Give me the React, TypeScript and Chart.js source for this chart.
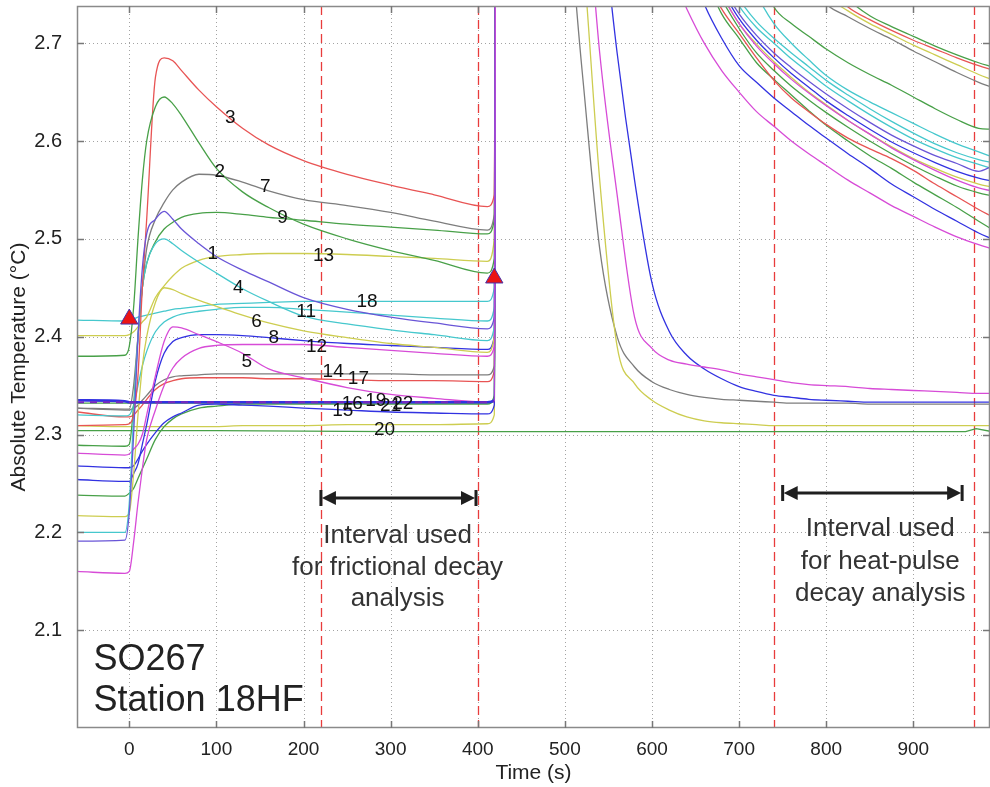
import React, { useEffect, useRef } from 'react';
import { Chart, registerables } from 'chart.js';

Chart.register(...registerables);

// ---- axes ----
const X_MIN = -60;
const X_MAX = 988;
const Y_MIN = 2.0;
const Y_MAX = 2.738;
const X_TICKS = [0, 100, 200, 300, 400, 500, 600, 700, 800, 900];
const Y_TICKS = [2.1, 2.2, 2.3, 2.4, 2.5, 2.6, 2.7];
const MARK_T = [220, 400, 740, 970];

// ---- sample times ----
const PRE_T = [-60, -5, 0, 5, 10, 15, 20, 30, 40, 50, 60, 80, 100, 130, 160, 200, 250, 300, 350, 411, 419];
const POST_T = [422, 520, 540, 560, 580, 600, 620, 640, 660, 680, 700, 720, 740, 760, 780, 800, 825, 850, 875, 900, 925, 950, 975, 990];

// ---- sensor series (°C) ----
const S1_PRE = [2.191, 2.192, 2.22, 2.30, 2.40, 2.47, 2.505, 2.52, 2.528, 2.52, 2.51, 2.495, 2.482, 2.468, 2.456, 2.44, 2.428, 2.42, 2.414, 2.408, 2.42];
const S1_POST = [3.6, 3.2, 3.1, 3.0, 2.95, 2.9, 2.86, 2.83, 2.80, 2.76, 2.73, 2.708, 2.69, 2.675, 2.661, 2.648, 2.633, 2.619, 2.606, 2.595, 2.585, 2.577, 2.569, 2.574];
const S2_PRE = [2.38, 2.381, 2.39, 2.43, 2.50, 2.56, 2.60, 2.635, 2.645, 2.638, 2.626, 2.598, 2.572, 2.548, 2.532, 2.515, 2.5, 2.488, 2.478, 2.465, 2.48];
const S2_POST = [3.6, 3.4, 3.35, 3.3, 3.2, 3.1, 3.05, 3.0, 2.96, 2.92, 2.89, 2.86, 2.83, 2.81, 2.79, 2.77, 2.745, 2.728, 2.717, 2.707, 2.697, 2.688, 2.68, 2.676];
const S3_PRE = [2.309, 2.31, 2.311, 2.32, 2.36, 2.45, 2.52, 2.665, 2.685, 2.682, 2.672, 2.652, 2.635, 2.613, 2.596, 2.58, 2.566, 2.555, 2.545, 2.533, 2.545];
const S3_POST = [3.6, 3.4, 3.35, 3.3, 3.2, 3.1, 3.05, 3.0, 2.96, 2.92, 2.89, 2.86, 2.83, 2.805, 2.785, 2.76, 2.737, 2.724, 2.713, 2.703, 2.694, 2.685, 2.677, 2.673];
const S4_PRE = [2.20, 2.20, 2.23, 2.32, 2.40, 2.45, 2.475, 2.495, 2.50, 2.495, 2.488, 2.476, 2.465, 2.449, 2.436, 2.421, 2.413, 2.407, 2.402, 2.396, 2.41];
const S4_POST = [3.6, 3.25, 3.15, 3.05, 2.98, 2.93, 2.89, 2.85, 2.81, 2.77, 2.738, 2.716, 2.70, 2.684, 2.67, 2.656, 2.641, 2.627, 2.614, 2.602, 2.592, 2.583, 2.576, 2.572];
const S5_PRE = [2.281, 2.279, 2.28, 2.285, 2.29, 2.30, 2.32, 2.36, 2.395, 2.41, 2.409, 2.402, 2.395, 2.383, 2.367, 2.358, 2.348, 2.341, 2.337, 2.333, 2.335];
const S5_POST = [3.6, 3.1, 3.0, 2.93, 2.87, 2.82, 2.775, 2.735, 2.70, 2.672, 2.65, 2.63, 2.615, 2.60, 2.587, 2.575, 2.56, 2.547, 2.534, 2.523, 2.512, 2.502, 2.494, 2.49];
const S6_PRE = [2.217, 2.216, 2.22, 2.26, 2.32, 2.37, 2.40, 2.435, 2.45, 2.448, 2.444, 2.437, 2.431, 2.422, 2.414, 2.406, 2.399, 2.393, 2.389, 2.384, 2.40];
const S6_POST = [3.6, 2.80, 2.56, 2.39, 2.352, 2.335, 2.325, 2.318, 2.314, 2.312, 2.311, 2.31, 2.309, 2.309, 2.309, 2.309, 2.309, 2.309, 2.309, 2.309, 2.309, 2.309, 2.309, 2.309];
const S7_PRE = [2.327, 2.326, 2.326, 2.35, 2.40, 2.45, 2.49, 2.52, 2.537, 2.55, 2.558, 2.566, 2.565, 2.558, 2.549, 2.54, 2.534, 2.527, 2.518, 2.509, 2.525];
const S7_POST = [3.6, 3.4, 3.3, 3.2, 3.1, 3.0, 2.97, 2.94, 2.91, 2.88, 2.86, 2.83, 2.81, 2.79, 2.765, 2.74, 2.727, 2.715, 2.704, 2.692, 2.681, 2.67, 2.66, 2.655];
const S8_PRE = [2.254, 2.252, 2.252, 2.26, 2.27, 2.29, 2.31, 2.355, 2.383, 2.395, 2.399, 2.402, 2.402, 2.401, 2.399, 2.396, 2.393, 2.391, 2.389, 2.387, 2.40];
const S8_POST = [3.6, 3.2, 3.1, 3.0, 2.95, 2.9, 2.86, 2.82, 2.79, 2.755, 2.725, 2.703, 2.685, 2.669, 2.655, 2.641, 2.626, 2.612, 2.599, 2.588, 2.578, 2.569, 2.562, 2.559];
const S9_PRE = [2.289, 2.288, 2.29, 2.33, 2.40, 2.45, 2.475, 2.497, 2.51, 2.517, 2.522, 2.526, 2.527, 2.525, 2.522, 2.519, 2.515, 2.512, 2.509, 2.505, 2.52];
const S9_POST = [3.6, 3.3, 3.2, 3.1, 3.0, 2.95, 2.92, 2.89, 2.86, 2.83, 2.81, 2.78, 2.737, 2.72, 2.707, 2.694, 2.68, 2.668, 2.657, 2.645, 2.633, 2.622, 2.613, 2.612];
const S11_PRE = [2.32, 2.319, 2.32, 2.33, 2.35, 2.37, 2.385, 2.405, 2.415, 2.42, 2.423, 2.426, 2.428, 2.43, 2.43, 2.428, 2.425, 2.422, 2.419, 2.416, 2.43];
const S11_POST = [3.6, 3.25, 3.15, 3.05, 2.98, 2.93, 2.89, 2.85, 2.81, 2.775, 2.745, 2.722, 2.705, 2.69, 2.676, 2.662, 2.647, 2.633, 2.62, 2.608, 2.597, 2.588, 2.581, 2.578];
const S12_PRE = [2.16, 2.158, 2.16, 2.19, 2.23, 2.265, 2.295, 2.325, 2.35, 2.368, 2.378, 2.388, 2.391, 2.392, 2.392, 2.392, 2.389, 2.386, 2.383, 2.38, 2.39];
const S12_POST = [3.6, 3.2, 3.1, 3.0, 2.95, 2.9, 2.86, 2.82, 2.785, 2.75, 2.72, 2.697, 2.679, 2.663, 2.649, 2.636, 2.621, 2.607, 2.593, 2.581, 2.57, 2.56, 2.552, 2.549];
const S13_PRE = [2.401, 2.401, 2.402, 2.405, 2.41, 2.415, 2.42, 2.44, 2.452, 2.462, 2.47, 2.478, 2.482, 2.484, 2.485, 2.485, 2.484, 2.482, 2.48, 2.477, 2.50];
const S13_POST = [3.6, 3.4, 3.3, 3.2, 3.1, 3.0, 2.97, 2.94, 2.91, 2.88, 2.86, 2.84, 2.82, 2.80, 2.78, 2.75, 2.733, 2.72, 2.709, 2.698, 2.688, 2.678, 2.668, 2.663];
const S14_PRE = [2.327, 2.325, 2.325, 2.327, 2.33, 2.335, 2.34, 2.35, 2.356, 2.359, 2.36, 2.361, 2.362, 2.362, 2.362, 2.362, 2.362, 2.362, 2.361, 2.361, 2.37];
const S14_POST = [3.6, 2.67, 2.49, 2.40, 2.369, 2.354, 2.346, 2.341, 2.338, 2.336, 2.335, 2.334, 2.333, 2.332, 2.332, 2.332, 2.332, 2.331, 2.331, 2.331, 2.331, 2.331, 2.331, 2.331];
const S15_PRE = [2.268, 2.266, 2.266, 2.268, 2.275, 2.283, 2.29, 2.302, 2.312, 2.318, 2.322, 2.33, 2.331, 2.33, 2.329, 2.327, 2.325, 2.323, 2.322, 2.321, 2.33];
const S15_POST = [3.6, 3.2, 3.1, 3.0, 2.95, 2.9, 2.85, 2.79, 2.74, 2.705, 2.677, 2.66, 2.644, 2.63, 2.616, 2.603, 2.587, 2.572, 2.556, 2.543, 2.53, 2.518, 2.506, 2.50];
const S16_PRE = [2.238, 2.237, 2.24, 2.245, 2.255, 2.265, 2.275, 2.295, 2.308, 2.316, 2.321, 2.327, 2.329, 2.331, 2.331, 2.331, 2.331, 2.331, 2.331, 2.331, 2.34];
const S16_POST = [3.6, 3.2, 3.1, 3.0, 2.95, 2.9, 2.86, 2.82, 2.78, 2.745, 2.715, 2.69, 2.672, 2.656, 2.642, 2.629, 2.614, 2.6, 2.587, 2.575, 2.564, 2.554, 2.547, 2.544];
const S17_PRE = [2.323, 2.318, 2.318, 2.32, 2.325, 2.33, 2.336, 2.346, 2.352, 2.355, 2.357, 2.358, 2.358, 2.358, 2.357, 2.357, 2.356, 2.355, 2.355, 2.354, 2.365];
const S17_POST = [3.6, 3.2, 3.1, 3.0, 2.95, 2.9, 2.86, 2.82, 2.77, 2.735, 2.71, 2.685, 2.662, 2.644, 2.63, 2.617, 2.603, 2.592, 2.582, 2.57, 2.556, 2.543, 2.53, 2.523];
const S18_PRE = [2.417, 2.416, 2.416, 2.418, 2.42, 2.421, 2.422, 2.424, 2.426, 2.428, 2.429, 2.431, 2.433, 2.434, 2.435, 2.436, 2.436, 2.436, 2.436, 2.436, 2.45];
const S18_POST = [3.6, 3.3, 3.2, 3.1, 3.0, 2.95, 2.9, 2.86, 2.83, 2.81, 2.79, 2.75, 2.72, 2.70, 2.683, 2.667, 2.652, 2.64, 2.629, 2.618, 2.607, 2.597, 2.589, 2.584];
const S19_PRE = [2.335, 2.334, 2.333, 2.333, 2.333, 2.333, 2.333, 2.333, 2.333, 2.333, 2.333, 2.333, 2.333, 2.333, 2.333, 2.333, 2.333, 2.333, 2.333, 2.333, 2.335];
const S19_POST = [3.6, 3.0, 2.85, 2.69, 2.56, 2.455, 2.405, 2.381, 2.367, 2.357, 2.349, 2.344, 2.34, 2.338, 2.336, 2.335, 2.334, 2.333, 2.333, 2.333, 2.333, 2.333, 2.333, 2.333];
const S20_PRE = [2.309, 2.308, 2.308, 2.308, 2.308, 2.308, 2.308, 2.308, 2.308, 2.308, 2.308, 2.308, 2.308, 2.309, 2.309, 2.309, 2.31, 2.31, 2.31, 2.311, 2.32];
const S20_POST = [3.6, 3.2, 3.1, 3.0, 2.95, 2.9, 2.86, 2.82, 2.785, 2.75, 2.72, 2.699, 2.681, 2.665, 2.65, 2.637, 2.621, 2.607, 2.594, 2.582, 2.572, 2.563, 2.556, 2.553];
const S21_PRE = [2.333, 2.333, 2.333, 2.333, 2.333, 2.333, 2.333, 2.333, 2.333, 2.333, 2.333, 2.333, 2.333, 2.333, 2.333, 2.333, 2.333, 2.333, 2.333, 2.333, 2.334];
const S21_POST = [3.6, 2.90, 2.69, 2.545, 2.42, 2.388, 2.376, 2.372, 2.369, 2.366, 2.362, 2.359, 2.356, 2.353, 2.351, 2.35, 2.349, 2.347, 2.346, 2.345, 2.344, 2.343, 2.342, 2.342];
const S22_PRE = [2.332, 2.332, 2.332, 2.332, 2.332, 2.332, 2.332, 2.332, 2.332, 2.332, 2.332, 2.332, 2.332, 2.332, 2.332, 2.332, 2.332, 2.332, 2.332, 2.332, 2.335];
const S22_POST = [3.6, 3.2, 3.1, 3.0, 2.95, 2.9, 2.86, 2.82, 2.77, 2.73, 2.705, 2.68, 2.663, 2.647, 2.631, 2.616, 2.60, 2.585, 2.572, 2.558, 2.545, 2.532, 2.518, 2.51];

// reference sensor (no heat pulse)
const FLAT_T = [-60, 100, 300, 500, 700, 900, 960, 972, 990];
const FLAT_V = [2.304, 2.304, 2.303, 2.303, 2.303, 2.303, 2.303, 2.306, 2.303];

// penetration / heat-pulse markers
const TRI_T = [0, 419];
const TRI_V = [2.418, 2.46];

// sensor number labels
const LABEL_TEXT = ['3', '2', '7', '9', '1', '13', '4', '18', '11', '6', '8', '12', '5', '14', '17', '16', '15', '19', '21', '22', '20'];
const LABEL_T = [116, 104, 156, 176, 96, 223, 125, 273, 203, 146, 166, 215, 135, 234, 263, 256, 245, 283, 300, 314, 293];
const LABEL_V = [2.624, 2.569, 2.553, 2.522, 2.485, 2.483, 2.45, 2.436, 2.425, 2.415, 2.399, 2.39, 2.374, 2.364, 2.357, 2.331, 2.324, 2.334, 2.329, 2.331, 2.305];

// annotations
const ARROW_1 = [220, 398, 2.2346];
const ARROW_2 = [750, 956, 2.2407];
const NOTE_1 = ['Interval used', 'for frictional decay', 'analysis'];
const NOTE_1_POS = [308, 2.1968, 2.1642, 2.1316];
const NOTE_2 = ['Interval used', 'for heat-pulse', 'decay analysis'];
const NOTE_2_POS = [862, 2.204, 2.170, 2.137];
const STATION = ['SO267', 'Station 18HF'];
const STATION_POS = [-41, 2.0694, 2.0276];

const RED = 'rgb(232,84,84)';
const GREEN = 'rgb(72,160,72)';
const GRAY = 'rgb(125,125,125)';
const BLUE = 'rgb(50,50,225)';
const PURPLE = 'rgb(105,85,215)';
const DARKPURPLE = 'rgb(120,40,190)';
const CYAN = 'rgb(70,200,205)';
const YELLOW = 'rgb(205,205,80)';
const MAGENTA = 'rgb(215,75,215)';

const PULSE_T = 419;

// drawn top-most first
const SERIES = [
  { pre: S21_PRE, post: S21_POST, color: MAGENTA, preColor: DARKPURPLE, preDash: [7, 6], w: 1.3, preW: 2 },
  { pre: S19_PRE, post: S19_POST, color: BLUE, preColor: BLUE, preDash: [], w: 1.3, preW: 2.6 },
  { pre: S1_PRE, post: S1_POST, color: PURPLE },
  { pre: S2_PRE, post: S2_POST, color: GREEN },
  { pre: S3_PRE, post: S3_POST, color: RED },
  { pre: S4_PRE, post: S4_POST, color: CYAN },
  { pre: S5_PRE, post: S5_POST, color: MAGENTA },
  { pre: S6_PRE, post: S6_POST, color: YELLOW },
  { pre: S7_PRE, post: S7_POST, color: GRAY },
  { pre: S8_PRE, post: S8_POST, color: BLUE },
  { pre: S9_PRE, post: S9_POST, color: GREEN },
  { pre: S11_PRE, post: S11_POST, color: CYAN },
  { pre: S12_PRE, post: S12_POST, color: MAGENTA },
  { pre: S13_PRE, post: S13_POST, color: YELLOW },
  { pre: S14_PRE, post: S14_POST, color: GRAY },
  { pre: S15_PRE, post: S15_POST, color: BLUE },
  { pre: S16_PRE, post: S16_POST, color: GREEN },
  { pre: S17_PRE, post: S17_POST, color: RED },
  { pre: S18_PRE, post: S18_POST, color: CYAN },
  { pre: S20_PRE, post: S20_POST, color: YELLOW },
  { pre: S22_PRE, post: S22_POST, color: GREEN },
];

const FONT = '"Liberation Sans", Arial, Helvetica, sans-serif';

function drawArrow(ctx: CanvasRenderingContext2D, x1: number, x2: number, y: number) {
  ctx.save();
  ctx.strokeStyle = '#1f1f1f';
  ctx.fillStyle = '#1f1f1f';
  ctx.lineWidth = 3;
  ctx.setLineDash([]);
  ctx.beginPath();
  ctx.moveTo(x1 + 8, y);
  ctx.lineTo(x2 - 8, y);
  ctx.stroke();
  ctx.beginPath();
  ctx.moveTo(x1 + 1, y);
  ctx.lineTo(x1 + 15, y - 7);
  ctx.lineTo(x1 + 15, y + 7);
  ctx.closePath();
  ctx.fill();
  ctx.beginPath();
  ctx.moveTo(x2 - 1, y);
  ctx.lineTo(x2 - 15, y - 7);
  ctx.lineTo(x2 - 15, y + 7);
  ctx.closePath();
  ctx.fill();
  ctx.beginPath();
  ctx.moveTo(x1, y - 8);
  ctx.lineTo(x1, y + 8);
  ctx.moveTo(x2, y - 8);
  ctx.lineTo(x2, y + 8);
  ctx.stroke();
  ctx.restore();
}

const overlayPlugin = {
  id: 'overlay',
  beforeDatasetsDraw(chart: any) {
    const { ctx, chartArea: a, scales } = chart;
    const x = scales.x;
    const y = scales.y;
    ctx.save();
    ctx.beginPath();
    ctx.rect(a.left, a.top, a.right - a.left, a.bottom - a.top);
    ctx.clip();
    ctx.strokeStyle = '#a3a3a3';
    ctx.lineWidth = 1;
    ctx.setLineDash([1, 3]);
    for (const v of X_TICKS) {
      const px = Math.round(x.getPixelForValue(v)) + 0.5;
      ctx.beginPath();
      ctx.moveTo(px, a.top);
      ctx.lineTo(px, a.bottom);
      ctx.stroke();
    }
    for (const v of Y_TICKS) {
      const py = Math.round(y.getPixelForValue(v)) + 0.5;
      ctx.beginPath();
      ctx.moveTo(a.left, py);
      ctx.lineTo(a.right, py);
      ctx.stroke();
    }
    ctx.strokeStyle = 'rgb(232,60,60)';
    ctx.lineWidth = 1.3;
    ctx.setLineDash([9, 5]);
    for (const v of MARK_T) {
      const px = Math.round(x.getPixelForValue(v)) + 0.5;
      ctx.beginPath();
      ctx.moveTo(px, a.top);
      ctx.lineTo(px, a.bottom);
      ctx.stroke();
    }
    ctx.restore();
  },
  afterDatasetsDraw(chart: any) {
    const { ctx, chartArea: a, scales } = chart;
    const x = scales.x;
    const y = scales.y;
    ctx.save();
    ctx.setLineDash([]);
    ctx.strokeStyle = '#8a8a8a';
    ctx.lineWidth = 1.5;
    ctx.strokeRect(a.left + 0.5, a.top + 0.5, a.right - a.left - 1, a.bottom - a.top - 1);
    ctx.strokeStyle = '#777';
    ctx.lineWidth = 1.5;
    const tl = 7;
    for (const v of X_TICKS) {
      const px = Math.round(x.getPixelForValue(v)) + 0.5;
      ctx.beginPath();
      ctx.moveTo(px, a.bottom);
      ctx.lineTo(px, a.bottom - tl);
      ctx.moveTo(px, a.top);
      ctx.lineTo(px, a.top + tl);
      ctx.stroke();
    }
    for (const v of Y_TICKS) {
      const py = Math.round(y.getPixelForValue(v)) + 0.5;
      ctx.beginPath();
      ctx.moveTo(a.left, py);
      ctx.lineTo(a.left + tl, py);
      ctx.moveTo(a.right, py);
      ctx.lineTo(a.right - tl, py);
      ctx.stroke();
    }
    drawArrow(ctx, x.getPixelForValue(ARROW_1[0]), x.getPixelForValue(ARROW_1[1]), Math.round(y.getPixelForValue(ARROW_1[2])));
    drawArrow(ctx, x.getPixelForValue(ARROW_2[0]), x.getPixelForValue(ARROW_2[1]), Math.round(y.getPixelForValue(ARROW_2[2])));
    ctx.fillStyle = '#333';
    ctx.font = `26px ${FONT}`;
    ctx.textAlign = 'center';
    ctx.textBaseline = 'middle';
    NOTE_1.forEach((s, i) => ctx.fillText(s, x.getPixelForValue(NOTE_1_POS[0]), y.getPixelForValue(NOTE_1_POS[i + 1])));
    NOTE_2.forEach((s, i) => ctx.fillText(s, x.getPixelForValue(NOTE_2_POS[0]), y.getPixelForValue(NOTE_2_POS[i + 1])));
    ctx.fillStyle = '#222';
    ctx.font = `36px ${FONT}`;
    ctx.textAlign = 'left';
    STATION.forEach((s, i) => ctx.fillText(s, x.getPixelForValue(STATION_POS[0]), y.getPixelForValue(STATION_POS[i + 1])));
    ctx.fillStyle = '#111';
    ctx.font = `19px ${FONT}`;
    ctx.textAlign = 'center';
    LABEL_TEXT.forEach((s, i) => ctx.fillText(s, x.getPixelForValue(LABEL_T[i]), y.getPixelForValue(LABEL_V[i])));
    ctx.restore();
  },
};

export default function App() {
  const ref = useRef<HTMLCanvasElement | null>(null);
  useEffect(() => {
    if (!ref.current) return;
    const datasets: any[] = [
      {
        type: 'line',
        data: TRI_T.map((t, i) => ({ x: t, y: TRI_V[i] })),
        showLine: false,
        pointStyle: 'triangle',
        pointRadius: 10,
        pointBackgroundColor: 'rgb(235,20,20)',
        pointBorderColor: 'rgb(70,50,170)',
        pointBorderWidth: 1,
        clip: false,
      },
    ];
    SERIES.forEach((s: any) => {
      const w = s.w ?? 1.3;
      const preW = s.preW ?? w;
      const preColor = s.preColor ?? s.color;
      const preDash = s.preDash ?? [];
      datasets.push({
        type: 'line',
        data: PRE_T.map((t, i) => ({ x: t, y: s.pre[i] })).concat(POST_T.map((t, i) => ({ x: t, y: s.post[i] }))),
        borderColor: s.color,
        borderWidth: w,
        pointRadius: 0,
        fill: false,
        cubicInterpolationMode: 'monotone',
        segment: {
          borderColor: (c: any) => (c.p1.parsed.x <= PULSE_T ? preColor : s.color),
          borderWidth: (c: any) => (c.p1.parsed.x <= PULSE_T ? preW : w),
          borderDash: (c: any) => (c.p1.parsed.x <= PULSE_T ? preDash : []),
        },
      });
    });
    datasets.push({
      type: 'line',
      data: FLAT_T.map((t, i) => ({ x: t, y: FLAT_V[i] })),
      borderColor: GREEN,
      borderWidth: 1.3,
      pointRadius: 0,
      fill: false,
    });

    const chart = new Chart(ref.current, {
      type: 'line',
      data: { datasets },
      options: {
        animation: false,
        responsive: false,
        devicePixelRatio: 1,
        layout: { autoPadding: false, padding: { top: 6, right: 0, left: 0, bottom: 0 } },
        plugins: { legend: { display: false }, tooltip: { enabled: false } },
        scales: {
          x: {
            type: 'linear',
            min: X_MIN,
            max: X_MAX,
            grid: { display: false },
            border: { display: false },
            afterBuildTicks: (sc: any) => {
              sc.ticks = X_TICKS.map((v) => ({ value: v }));
            },
            afterFit: (sc: any) => {
              sc.height = 59;
              sc.paddingLeft = 0;
              sc.paddingRight = 0;
            },
            ticks: {
              color: '#222',
              font: { size: 19, family: FONT },
              padding: 2,
              maxRotation: 0,
              callback: (v: any) => String(v),
            },
            title: {
              display: true,
              text: 'Time (s)',
              color: '#222',
              font: { size: 21, family: FONT },
              padding: { top: 0, bottom: 1 },
            },
          },
          y: {
            type: 'linear',
            min: Y_MIN,
            max: Y_MAX,
            grid: { display: false },
            border: { display: false },
            afterBuildTicks: (sc: any) => {
              sc.ticks = Y_TICKS.map((v) => ({ value: v }));
            },
            afterFit: (sc: any) => {
              sc.width = 77;
              sc.paddingTop = 0;
              sc.paddingBottom = 0;
            },
            ticks: {
              color: '#222',
              font: { size: 20, family: FONT },
              padding: 7,
              callback: (v: any) => Number(v).toFixed(1),
            },
            title: {
              display: true,
              text: 'Absolute Temperature (°C)',
              color: '#222',
              font: { size: 21, family: FONT },
              padding: { top: 7, bottom: 0 },
            },
          },
        },
      },
      plugins: [overlayPlugin],
    } as any);
    return () => chart.destroy();
  }, []);
  return (
    <div style={{ position: 'absolute', left: 0, top: 0, width: 990, height: 787, background: '#fff' }}>
      <canvas ref={ref} width={990} height={787} style={{ display: 'block' }} />
    </div>
  );
}
